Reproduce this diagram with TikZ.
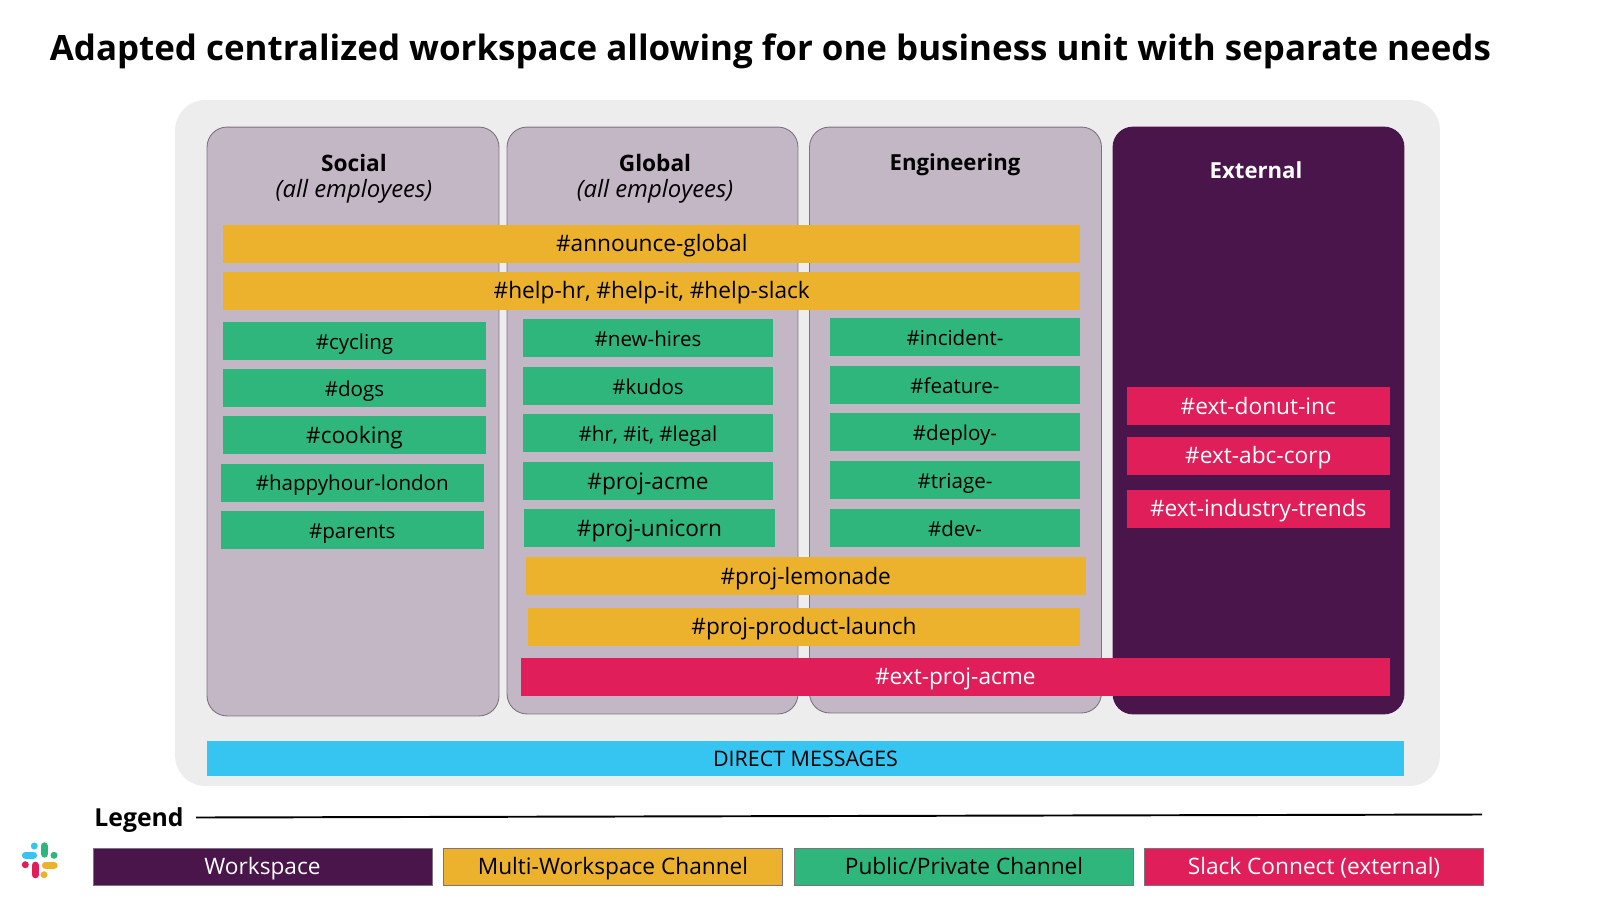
\documentclass[tikz,border=0pt]{standalone}
\usepackage{fontspec}
\setmainfont{Open Sans}
\definecolor{slackpurple}{HTML}{4A154B}
\definecolor{slackorange}{HTML}{ECB22E}
\definecolor{slackgreen}{HTML}{2EB67D}
\definecolor{slackred}{HTML}{E01E5A}
\definecolor{slackblue}{HTML}{36C5F0}
\definecolor{unitfill}{HTML}{C3B6C5}
\definecolor{unitline}{HTML}{7D7280}
\definecolor{workbg}{HTML}{EDEDEE}

\begin{document}
\begin{tikzpicture}[x=0.02cm, y=0.02cm]
            \tikzstyle{every node}=[inner sep=0pt, font=\fontsize{12.9}{15}\selectfont]
            \tikzstyle{unit}=[rectangle, rounded corners=0.4cm, fill=unitfill, draw=unitline, line width=0.5pt]
            \tikzstyle{unithead}=[align=center, text=black]
            \tikzstyle{boxtext}=[text height=11pt, text depth=1.8pt]
            \tikzstyle{smalltext}=[font=\fontsize{11.7}{14}\selectfont]
            \tikzstyle{multi}=[boxtext, rectangle, fill=slackorange, text=black, minimum height=0.76cm]
            \tikzstyle{chan}=[boxtext, rectangle, fill=slackgreen, text=black, minimum height=0.76cm]
            \tikzstyle{ext}=[boxtext, rectangle, fill=slackred, text=white, minimum height=0.76cm]
            \tikzstyle{legendbox}=[boxtext, rectangle, draw=unitline, line width=0.3pt, minimum width=6.78cm, minimum height=0.75cm]
            \tikzstyle{logobar}=[line width=0.146cm, line cap=round]
            \useasboundingbox (0,0) rectangle (1600,-900);

            \node (titleline) at (770.4,-51) {\fontsize{19.87}{24}\selectfont\bfseries Adapted centralized workspace allowing for one business unit with separate needs};

            \node [rectangle, rounded corners=0.6cm, fill=workbg, minimum width=25.3cm, minimum height=13.72cm] (workarea) at (807.5,-443) {};
            \node [unit, minimum width=5.84cm, minimum height=11.78cm] (social) at (353,-421.5) {};
            \node [unit, minimum width=5.82cm, minimum height=11.74cm] (global) at (652.5,-420.5) {};
            \node [unit, minimum width=5.84cm, minimum height=11.72cm] (engineering) at (955.5,-420) {};
            \node [unit, fill=slackpurple, draw=slackpurple, minimum width=5.82cm, minimum height=11.74cm] (external) at (1258.5,-420.5) {};

            \node [unithead] (socialhead) at (354,-178.5) {\textbf{Social}\\\fontsize{13.6}{15}\selectfont\textit{(all employees)}};
            \node [unithead] (globalhead) at (655,-178.5) {\textbf{Global}\\\fontsize{13.6}{15}\selectfont\textit{(all employees)}};
            \node [unithead, font=\fontsize{12.6}{15}\selectfont] (enghead) at (955,-165) {\textbf{Engineering}};
            \node [unithead, text=white, font=\fontsize{12.6}{15}\selectfont] (exthead) at (1256,-170.5) {\textbf{External}};

            \node [multi, minimum width=17.15cm] (announce) at (651.75,-243.75) {\#announce-global};
            \node [multi, minimum width=17.15cm] (help) at (651.75,-290.5) {\#help-hr, \#help-it, \#help-slack};

            \node [chan, smalltext, minimum width=5.26cm] (cycling) at (354.5,-341) {\#cycling};
            \node [chan, smalltext, minimum width=5.26cm] (dogs) at (354.5,-388) {\#dogs};
            \node [chan, minimum width=5.26cm] (cooking) at (354.5,-435) {\#cooking};
            \node [chan, smalltext, minimum width=5.26cm] (happyhour) at (352.25,-482.75) {\#happyhour-london};
            \node [chan, smalltext, minimum width=5.26cm] (parents) at (352.25,-530) {\#parents};

            \node [chan, smalltext, minimum width=5.02cm] (newhires) at (648,-338) {\#new-hires};
            \node [chan, smalltext, minimum width=5.02cm] (kudos) at (648,-386) {\#kudos};
            \node [chan, smalltext, minimum width=5.02cm] (hr) at (648,-433) {\#hr, \#it, \#legal};
            \node [chan, minimum width=5.02cm] (acme) at (648,-481) {\#proj-acme};
            \node [chan, minimum width=5.02cm] (unicorn) at (649.5,-528) {\#proj-unicorn};

            \node [chan, smalltext, minimum width=5.02cm] (incident) at (955,-337) {\#incident-};
            \node [chan, smalltext, minimum width=5.02cm] (feature) at (955,-385) {\#feature-};
            \node [chan, smalltext, minimum width=5.02cm] (deploy) at (955,-432) {\#deploy-};
            \node [chan, smalltext, minimum width=5.02cm] (triage) at (955,-480) {\#triage-};
            \node [chan, smalltext, minimum width=5.02cm] (dev) at (955,-528) {\#dev-};

            \node [multi, minimum width=11.21cm] (lemonade) at (805.75,-576) {\#proj-lemonade};
            \node [multi, minimum width=11.06cm] (launch) at (804,-626.5) {\#proj-product-launch};
            \node [ext, minimum width=17.39cm] (extacme) at (955.35,-676.6) {\#ext-proj-acme};

            \node [ext, minimum width=5.27cm] (donut) at (1258.25,-406) {\#ext-donut-inc};
            \node [ext, minimum width=5.27cm] (abc) at (1258.25,-455.75) {\#ext-abc-corp};
            \node [ext, minimum width=5.27cm] (trends) at (1258.25,-508.75) {\#ext-industry-trends};

            \node [boxtext, rectangle, fill=slackblue, text=black, minimum width=23.94cm, minimum height=0.7cm, font=\fontsize{12.2}{14}\selectfont] (direct) at (805.5,-758.5) {DIRECT MESSAGES};

            \node (legendhead) at (139,-820) {\fontsize{14.1}{17}\selectfont\bfseries Legend};
            \coordinate (legendstart) at (196,-817.5);
            \coordinate (legendend) at (1482,-814.5);
            \draw [black, line width=1.1pt] (legendstart) -- (legendend);

            \node [legendbox, fill=slackpurple, text=white] (legendwork) at (262.5,-866.5) {Workspace};
            \node [legendbox, fill=slackorange, text=black] (legendmulti) at (613,-866.5) {Multi-Workspace Channel};
            \node [legendbox, fill=slackgreen, text=black] (legendchan) at (964,-866.5) {Public/Private Channel};
            \node [legendbox, fill=slackred, text=white] (legendext) at (1314,-866.5) {Slack Connect (external)};

            \draw [logobar, slackblue] (25.5,-855.3) -- (33.5,-855.3);
            \fill [slackblue] (34.3,-846) circle (3.5);
            \draw [logobar, slackgreen] (44.3,-846) -- (44.3,-854);
            \fill [slackgreen] (54,-855.3) circle (3.5);
            \draw [logobar, slackorange] (45.5,-865.3) -- (54,-865.3);
            \fill [slackorange] (44,-874.7) circle (3.5);
            \draw [logobar, slackred] (35.3,-865.3) -- (35.3,-874.7);
            \fill [slackred] (25.3,-864.7) circle (3.5);
        \end{tikzpicture}
\end{document}
